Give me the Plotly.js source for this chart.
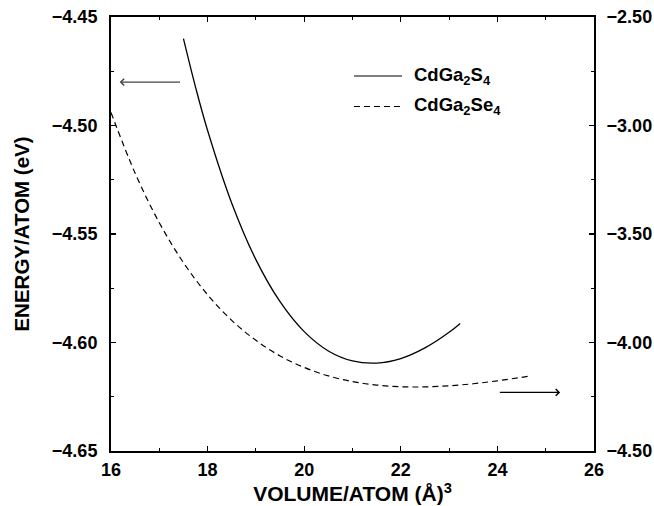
<!DOCTYPE html>
<html>
<head>
<meta charset="utf-8">
<script src="https://cdn.plot.ly/plotly-3.0.1.min.js"></script>
<style>html,body{margin:0;padding:0;background:#fff;}#chart{width:654px;height:506px;}</style>
</head>
<body>
<div id="chart"></div>
<script>
// CdGa2S4 (left axis, eV)
const volS = [17.5, 17.75, 18, 18.5, 19, 19.5, 20, 20.5, 21, 21.5, 22, 22.5, 23, 23.23];
const energyS = [-4.4600, -4.4823, -4.5023, -4.5358, -4.5618, -4.5812, -4.5950, -4.6039, -4.6085, -4.6095, -4.6074, -4.6025, -4.5953, -4.5912];
// CdGa2Se4 (right axis, eV)
const volSe = [16, 16.5, 17, 17.5, 18, 18.5, 19, 19.5, 20, 20.5, 21, 21.5, 22, 22.5, 23, 23.5, 24, 24.67];
const energySe = [-2.940, -3.220, -3.448, -3.632, -3.780, -3.898, -3.990, -4.062, -4.115, -4.154, -4.180, -4.196, -4.204, -4.2045, -4.1995, -4.190, -4.1765, -4.155];
const seriesNames = ["CdGa<sub>2</sub>S<sub>4</sub>", "CdGa<sub>2</sub>Se<sub>4</sub>"];
const xTitle = "VOLUME/ATOM (Å)<sup>3</sup>";
const yTitle = "ENERGY/ATOM (eV)";

const FONT = "'Liberation Sans', Arial, sans-serif";
const tickFont = {family: FONT, size: 18, color: '#000', weight: 'bold'};

const traces = [
  {x: volS, y: energyS, name: seriesNames[0], mode: 'lines', yaxis: 'y',
   line: {color: '#000', width: 1.3, shape: 'spline'}, showlegend: false, hoverinfo: 'skip'},
  {x: volSe, y: energySe, name: seriesNames[1], mode: 'lines', yaxis: 'y2',
   line: {color: '#000', width: 1.2, dash: '6px,4px', shape: 'spline'}, showlegend: false, hoverinfo: 'skip'}
];

const axisCommon = {
  showgrid: false, zeroline: false, showline: true, linecolor: '#000', linewidth: 2,
  ticks: 'inside', ticklen: 5, tickwidth: 1.2, tickcolor: '#000', tickfont: tickFont,
  automargin: false
};

const layout = {
  width: 654, height: 506,
  margin: {l: 111, r: 60, t: 17, b: 55},
  paper_bgcolor: '#fff', plot_bgcolor: '#fff',
  showlegend: false,
  xaxis: Object.assign({}, axisCommon, {
    range: [16, 26], dtick: 2, tick0: 16, mirror: 'ticks',
    minor: {dtick: 1, ticklen: 3, tickwidth: 1, tickcolor: '#000', ticks: 'inside'},
    ticklabelstandoff: 1,
    title: {text: xTitle, font: {family: FONT, size: 21, color: '#000', weight: 'bold'}, standoff: 6}
  }),
  yaxis: Object.assign({}, axisCommon, {
    range: [-4.65, -4.45], dtick: 0.05, tick0: -4.65, tickformat: '.2f',
    minor: {dtick: 0.025, ticklen: 3, tickwidth: 1, tickcolor: '#000', ticks: 'inside'},
    ticklabelstandoff: 8,
    title: {text: yTitle, font: {family: FONT, size: 20.5, color: '#000', weight: 'bold'}, standoff: 17}
  }),
  yaxis2: Object.assign({}, axisCommon, {
    overlaying: 'y', side: 'right',
    range: [-4.5, -2.5], dtick: 0.5, tick0: -4.5, tickformat: '.2f',
    minor: {dtick: 0.25, ticklen: 3, tickwidth: 1, tickcolor: '#000', ticks: 'inside'},
    ticklabelstandoff: 7
  }),
  shapes: [
    {type: 'line', xref: 'paper', yref: 'paper', x0: 0.503, x1: 0.6025, y0: 0.864, y1: 0.864,
     line: {color: '#000', width: 1.2}},
    {type: 'line', xref: 'paper', yref: 'paper', x0: 0.503, x1: 0.6025, y0: 0.7938, y1: 0.7938,
     line: {color: '#000', width: 1.2, dash: '6px,4px'}}
  ],
  annotations: [
    {xref: 'paper', yref: 'paper', x: 0.623, y: 0.864, xanchor: 'left', yanchor: 'middle',
     text: seriesNames[0], showarrow: false, font: {family: FONT, size: 18.5, color: '#000', weight: 'bold'}},
    {xref: 'paper', yref: 'paper', x: 0.623, y: 0.7938, xanchor: 'left', yanchor: 'middle',
     text: seriesNames[1], showarrow: false, font: {family: FONT, size: 18.5, color: '#000', weight: 'bold'}},
    {xref: 'x', yref: 'y', axref: 'x', ayref: 'y', x: 16.18, y: -4.48, ax: 17.46, ay: -4.48,
     showarrow: true, arrowhead: 4, arrowsize: 1.1, arrowwidth: 1.2, arrowcolor: '#444', text: ''},
    {xref: 'x', yref: 'y2', axref: 'x', ayref: 'y2', x: 25.30, y: -4.23, ax: 24.02, ay: -4.23,
     showarrow: true, arrowhead: 4, arrowsize: 1.1, arrowwidth: 1.2, arrowcolor: '#000', text: ''}
  ]
};

Plotly.newPlot('chart', traces, layout, {staticPlot: true, displayModeBar: false});
</script>
</body>
</html>
